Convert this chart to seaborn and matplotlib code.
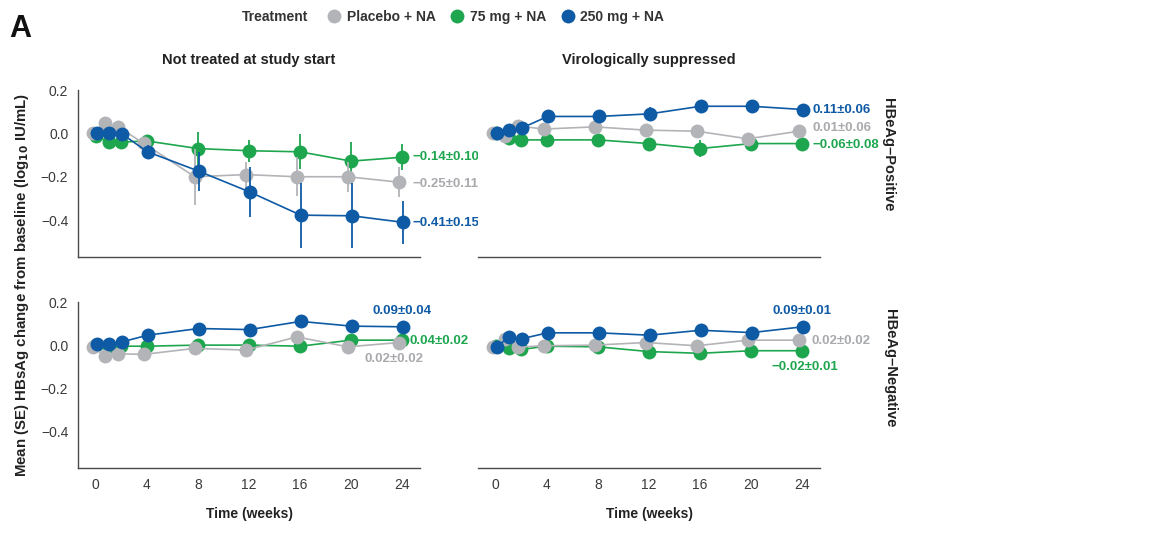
import numpy as np
import pandas as pd
import matplotlib
matplotlib.use("Agg")
import matplotlib.pyplot as plt
from matplotlib.lines import Line2D
import seaborn as sns

# ---------------- data ----------------
weeks = [0, 1, 2, 4, 8, 12, 16, 20, 24]
treatments = ["Placebo + NA", "75 mg + NA", "250 mg + NA"]
columns = ["Not treated at study start", "Virologically suppressed"]
rows = ["HBeAg\u2013Positive", "HBeAg\u2013Negative"]

# Not treated, HBeAg-positive
nt_pos_placebo = [0.0, 0.046, 0.03, -0.046, -0.20, -0.19, -0.20, -0.20, -0.225]
nt_pos_placebo_se = [0.005, 0.01, 0.01, 0.02, 0.13, 0.06, 0.09, 0.07, 0.07]
nt_pos_75 = [-0.01, -0.04, -0.04, -0.035, -0.07, -0.08, -0.085, -0.128, -0.11]
nt_pos_75_se = [0.005, 0.01, 0.01, 0.02, 0.075, 0.05, 0.08, 0.09, 0.06]
nt_pos_250 = [0.0, 0.0, -0.003, -0.085, -0.174, -0.27, -0.377, -0.38, -0.41]
nt_pos_250_se = [0.005, 0.01, 0.01, 0.03, 0.09, 0.115, 0.15, 0.15, 0.10]

# Virologically suppressed, HBeAg-positive
vs_pos_placebo = [0.0, -0.01, 0.034, 0.02, 0.03, 0.015, 0.01, -0.025, 0.01]
vs_pos_placebo_se = [0.005, 0.01, 0.01, 0.015, 0.015, 0.02, 0.02, 0.02, 0.02]
vs_pos_75 = [0.0, -0.02, -0.03, -0.03, -0.03, -0.047, -0.07, -0.047, -0.047]
vs_pos_75_se = [0.005, 0.01, 0.015, 0.02, 0.025, 0.02, 0.04, 0.03, 0.02]
vs_pos_250 = [0.0, 0.017, 0.025, 0.078, 0.078, 0.09, 0.125, 0.125, 0.11]
vs_pos_250_se = [0.005, 0.01, 0.015, 0.02, 0.025, 0.03, 0.03, 0.03, 0.02]

# Not treated, HBeAg-negative
nt_neg_placebo = [-0.01, -0.05, -0.04, -0.043, -0.015, -0.023, 0.038, -0.008, 0.012]
nt_neg_placebo_se = [0.005, 0.008, 0.008, 0.008, 0.01, 0.01, 0.012, 0.01, 0.01]
nt_neg_75 = [0.0, -0.005, -0.005, -0.005, 0.0, 0.0, -0.005, 0.023, 0.023]
nt_neg_75_se = [0.005, 0.006, 0.006, 0.008, 0.01, 0.01, 0.01, 0.01, 0.01]
nt_neg_250 = [0.003, 0.003, 0.015, 0.046, 0.077, 0.072, 0.11, 0.088, 0.085]
nt_neg_250_se = [0.005, 0.01, 0.01, 0.01, 0.015, 0.015, 0.02, 0.02, 0.015]

# Virologically suppressed, HBeAg-negative
vs_neg_placebo = [-0.01, 0.028, -0.009, -0.003, 0.0, 0.012, -0.003, 0.023, 0.023]
vs_neg_placebo_se = [0.004, 0.006, 0.006, 0.006, 0.006, 0.006, 0.006, 0.006, 0.006]
vs_neg_75 = [-0.005, -0.015, -0.02, -0.005, -0.008, -0.03, -0.038, -0.026, -0.026]
vs_neg_75_se = [0.004, 0.006, 0.006, 0.006, 0.006, 0.006, 0.006, 0.006, 0.006]
vs_neg_250 = [-0.008, 0.038, 0.03, 0.057, 0.057, 0.046, 0.069, 0.058, 0.085]
vs_neg_250_se = [0.004, 0.006, 0.006, 0.006, 0.006, 0.006, 0.006, 0.006, 0.006]

# end-of-study annotations (text per panel per treatment)
end_labels = {
    (0, 0): ["\u22120.25\u00b10.11", "\u22120.14\u00b10.10", "\u22120.41\u00b10.15"],
    (0, 1): ["0.01\u00b10.06", "\u22120.06\u00b10.08", "0.11\u00b10.06"],
    (1, 0): ["0.02\u00b10.02", "0.04\u00b10.02", "0.09\u00b10.04"],
    (1, 1): ["0.02\u00b10.02", "\u22120.02\u00b10.01", "0.09\u00b10.01"],
}
# label anchor positions (week, value, ha)
label_pos = {
    (0, 0): [(24.85, -0.235, "left"), (24.85, -0.11, "left"), (24.85, -0.413, "left")],
    (0, 1): [(24.85, 0.023, "left"), (24.85, -0.055, "left"), (24.85, 0.11, "left")],
    (1, 0): [(23.4, -0.065, "center"), (24.6, 0.02, "left"), (24.0, 0.16, "center")],
    (1, 1): [(24.7, 0.02, "left"), (24.2, -0.103, "center"), (24.0, 0.158, "center")],
}

panel_data = {
    (0, 0): [(nt_pos_placebo, nt_pos_placebo_se), (nt_pos_75, nt_pos_75_se), (nt_pos_250, nt_pos_250_se)],
    (0, 1): [(vs_pos_placebo, vs_pos_placebo_se), (vs_pos_75, vs_pos_75_se), (vs_pos_250, vs_pos_250_se)],
    (1, 0): [(nt_neg_placebo, nt_neg_placebo_se), (nt_neg_75, nt_neg_75_se), (nt_neg_250, nt_neg_250_se)],
    (1, 1): [(vs_neg_placebo, vs_neg_placebo_se), (vs_neg_75, vs_neg_75_se), (vs_neg_250, vs_neg_250_se)],
}

records = []
for (r, c), series in panel_data.items():
    for t, (vals, ses) in zip(treatments, series):
        for w, v, s in zip(weeks, vals, ses):
            records.append(dict(row=rows[r], col=columns[c], treatment=t, week=w, value=v, se=s))
df = pd.DataFrame(records)

# ---------------- style ----------------
sns.set_theme(style="white")
plt.rcParams["font.family"] = ["Liberation Sans", "DejaVu Sans"]

palette = {"Placebo + NA": "#b3b4b8", "75 mg + NA": "#1ea64f", "250 mg + NA": "#0e5aa5"}
text_colors = {"Placebo + NA": "#a9aaae", "75 mg + NA": "#1ea64f", "250 mg + NA": "#0e5aa5"}
dodge = {"Placebo + NA": -0.25, "75 mg + NA": 0.0, "250 mg + NA": 0.05}
df["week_d"] = df["week"] + df["treatment"].map(dodge)

W, H = 1165, 533
fig = plt.figure(figsize=(W / 100, H / 100), dpi=100)

def ax_rect(x0, x1, ytop, ybot):
    return [x0 / W, 1 - ybot / H, (x1 - x0) / W, (ybot - ytop) / H]

spine_col = "#4a4a4a"
tick_col = "#3a3a3a"

axes = {}
axes[(0, 0)] = fig.add_axes(ax_rect(78, 420, 90, 257))
axes[(0, 1)] = fig.add_axes(ax_rect(478, 820, 90, 257))
axes[(1, 0)] = fig.add_axes(ax_rect(78, 420, 302, 468))
axes[(1, 1)] = fig.add_axes(ax_rect(478, 820, 302, 468))

zorders = {"Placebo + NA": 3, "75 mg + NA": 2, "250 mg + NA": 4}

for (r, c), ax in axes.items():
    sub = df[(df["row"] == rows[r]) & (df["col"] == columns[c])]
    for t in ["75 mg + NA", "Placebo + NA", "250 mg + NA"]:
        s = sub[sub["treatment"] == t]
        ax.vlines(s["week_d"], s["value"] - s["se"], s["value"] + s["se"],
                  color=palette[t], lw=1.3, zorder=zorders[t])
        sns.lineplot(data=s, x="week_d", y="value", color=palette[t], marker="o",
                     markersize=10, markeredgewidth=0, linewidth=1.2, legend=False,
                     ax=ax, zorder=zorders[t], estimator=None, sort=False)
    for i, t in enumerate(treatments):
        x, y, ha = label_pos[(r, c)][i]
        ax.text(x, y, end_labels[(r, c)][i], color=text_colors[t], fontsize=9.5,
                fontweight="bold", ha=ha, va="center", clip_on=False)

    ax.set_xlim(-1.4, 25.4)
    ax.set_ylim(-0.57, 0.2)
    ax.set_xlabel("")
    ax.set_ylabel("")
    for sp in ["top", "right"]:
        ax.spines[sp].set_visible(False)
    ax.spines["bottom"].set_color(spine_col)
    ax.spines["left"].set_color(spine_col)
    ax.spines["bottom"].set_linewidth(1.0)
    ax.spines["left"].set_linewidth(1.0)
    ax.set_xticks([0, 4, 8, 12, 16, 20, 24])
    ax.set_yticks([0.2, 0.0, -0.2, -0.4])
    ax.yaxis.set_major_formatter(matplotlib.ticker.FuncFormatter(
        lambda v, p: f"{v:.1f}".replace("-", "\u2212")))
    ax.tick_params(axis="both", colors=spine_col, labelcolor=tick_col, labelsize=10,
                   length=4, width=1.0, direction="out", pad=3)
    if c == 1:
        ax.spines["left"].set_visible(False)
        ax.tick_params(axis="y", left=False, labelleft=False)
    if r == 0:
        ax.tick_params(axis="x", bottom=False, labelbottom=False)
    else:
        ax.set_xlabel("Time (weeks)", fontsize=10, fontweight="bold", color="#222222", labelpad=11)
    if r == 0:
        ax.set_title(columns[c], fontsize=10.5, fontweight="bold", color="#222222", pad=19)

# row labels
fig.text(888 / W, 1 - 155 / H, rows[0], rotation=270, fontsize=10.5, fontweight="bold",
         color="#222222", ha="center", va="center")
fig.text(890 / W, 1 - 368 / H, rows[1], rotation=270, fontsize=10.5, fontweight="bold",
         color="#222222", ha="center", va="center")

# shared y label
fig.text(22 / W, 1 - 285 / H, "Mean (SE) HBsAg change from baseline (log$_{\\mathbf{10}}$ IU/mL)",
         rotation=90, fontsize=10.8, fontweight="bold", color="#222222", ha="center", va="center")

# panel letter
fig.text(9 / W, 1 - 29 / H, "A", fontsize=22, fontweight="bold", color="#111111",
         ha="left", va="center")

# legend
fig.text(242 / W, 1 - 17 / H, "Treatment", fontsize=10, fontweight="bold", color="#333333",
         ha="left", va="center")
handles = [Line2D([], [], marker="o", ls="", markersize=10, markeredgewidth=0,
                  color=palette[t]) for t in treatments]
fig.legend(handles, treatments, loc="center left", bbox_to_anchor=(324 / W, 1 - 17 / H),
           ncol=3, frameon=False, handletextpad=0.15, columnspacing=0.8, handlelength=1.5,
           borderpad=0, borderaxespad=0,
           prop={"family": ["Liberation Sans", "DejaVu Sans"], "weight": "bold", "size": 10})
for txt in fig.legends[0].get_texts():
    txt.set_color("#333333")

fig.savefig("out.png", dpi=100)
